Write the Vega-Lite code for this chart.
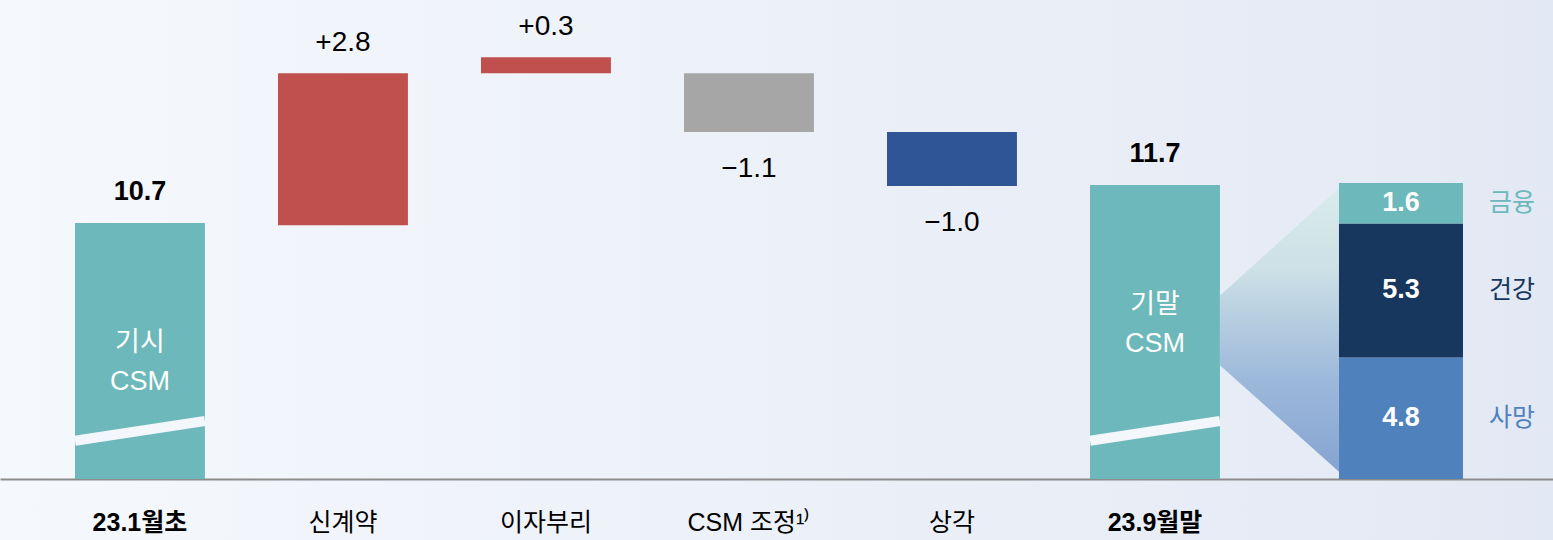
{
  "$schema": "https://vega.github.io/schema/vega-lite/v6.json",
  "width": 1553,
  "height": 540,
  "padding": 0,
  "autosize": {"type": "none"},
  "background": "#ecf1f8",
  "config": {
    "view": {"stroke": null, "fill": {"gradient": "linear", "x1": 0, "y1": 0, "x2": 1, "y2": 0, "stops": [{"offset": 0, "color": "#f5f8fc"}, {"offset": 1, "color": "#e3e9f4"}]}},
    "font": "Liberation Sans, Noto Sans CJK KR, sans-serif"
  },
  "datasets": {
    "wf": [
      {"cat": "23.1월초", "start": null, "end": 10.7, "kind": "total", "label": "10.7", "inner": "기시\nCSM"},
      {"cat": "신계약", "start": 10.66, "end": 13.5, "kind": "up", "label": "+2.8"},
      {"cat": "이자부리", "start": 13.5, "end": 13.8, "kind": "up", "label": "+0.3"},
      {"cat": "CSM 조정¹⁾", "start": 13.5, "end": 12.4, "kind": "adj", "label": "−1.1"},
      {"cat": "상각", "start": 12.4, "end": 11.39, "kind": "down", "label": "−1.0"},
      {"cat": "23.9월말", "start": null, "end": 11.41, "kind": "total", "label": "11.7", "inner": "기말\nCSM"}
    ],
    "mix": [
      {"cat": "구성", "part": "사망", "value": 4.8, "order": 1},
      {"cat": "구성", "part": "건강", "value": 5.3, "order": 2},
      {"cat": "구성", "part": "금융", "value": 1.6, "order": 3}
    ],
    "link": [
      {"cat": "23.9월말", "top": 7.25, "bottom": 4.5},
      {"cat": "구성", "top": 11.5, "bottom": 0.29}
    ]
  },
  "resolve": {"scale": {"y": "independent", "color": "independent"}},
  "layer": [
    {
      "data": {"name": "wf"},
      "layer": [
        {
          "transform": [{"filter": "datum.kind === 'total'"}],
          "mark": {"type": "bar", "color": "#6cb8ba"},
          "encoding": {
            "x": {"field": "cat", "type": "nominal", "title": null,
              "scale": {"domain": ["23.1월초", "신계약", "이자부리", "CSM 조정¹⁾", "상각", "23.9월말", "구성"], "paddingInner": 0.36, "paddingOuter": 0.505, "align": 0.3657},
              "axis": {"orient": "bottom", "offset": -61, "domainColor": "#8c8c8c", "domainWidth": 2, "ticks": false, "tickSize": 0, "grid": false, "labelPadding": 31, "labelFontSize": 25, "labelColor": "#000000", "labelFont": "Liberation Sans, Noto Sans CJK KR, sans-serif", "labelAngle": 0, "labelLimit": 300,
                "labelFontWeight": {"condition": {"test": "datum.value === '23.1월초' || datum.value === '23.9월말'", "value": "bold"}, "value": "normal"},
                "labelExpr": "datum.value === '구성' ? '' : datum.value"}},
            "y": {"field": "end", "type": "quantitative", "scale": {"domain": [4.775, 14.868], "nice": false, "zero": false}, "axis": null},
            "y2": {"datum": 5.915}
          }
        },
        {
          "transform": [{"filter": "datum.kind !== 'total'"}],
          "mark": {"type": "bar"},
          "encoding": {
            "x": {"field": "cat", "type": "nominal", "title": null, "scale": {"domain": ["23.1월초", "신계약", "이자부리", "CSM 조정¹⁾", "상각", "23.9월말", "구성"]}},
            "y": {"field": "start", "type": "quantitative", "scale": {"domain": [4.775, 14.868], "nice": false, "zero": false}, "axis": null},
            "y2": {"field": "end"},
            "color": {"field": "kind", "type": "nominal", "scale": {"domain": ["up", "adj", "down"], "range": ["#c0504d", "#a6a6a6", "#2f5597"]}, "legend": null}
          }
        },
        {
          "transform": [{"filter": "datum.kind === 'total'"}],
          "mark": {"type": "rule", "color": "#f3f6fb", "strokeWidth": 10, "strokeCap": "butt"},
          "encoding": {
            "x": {"field": "cat", "type": "nominal", "title": null, "bandPosition": 0},
            "x2": {"field": "cat", "bandPosition": 1},
            "y": {"datum": 6.63, "scale": {"domain": [4.775, 14.868], "nice": false, "zero": false}},
            "y2": {"datum": 7.0}
          }
        },
        {
          "transform": [{"filter": "datum.kind === 'total'"}],
          "mark": {"type": "text", "fontSize": 27, "fontWeight": "bold", "baseline": "alphabetic", "dy": -23, "color": "#000000"},
          "encoding": {
            "x": {"field": "cat", "type": "nominal", "title": null},
            "y": {"field": "end", "type": "quantitative", "scale": {"domain": [4.775, 14.868], "nice": false, "zero": false}},
            "text": {"field": "label"}
          }
        },
        {
          "transform": [{"filter": "datum.kind === 'up'"}],
          "mark": {"type": "text", "fontSize": 28, "baseline": "alphabetic", "dy": -22, "color": "#000000"},
          "encoding": {
            "x": {"field": "cat", "type": "nominal", "title": null},
            "y": {"field": "end", "type": "quantitative", "scale": {"domain": [4.775, 14.868], "nice": false, "zero": false}},
            "text": {"field": "label"}
          }
        },
        {
          "transform": [{"filter": "datum.kind === 'adj' || datum.kind === 'down'"}],
          "mark": {"type": "text", "fontSize": 28, "baseline": "top", "dy": 23, "color": "#000000"},
          "encoding": {
            "x": {"field": "cat", "type": "nominal", "title": null},
            "y": {"field": "end", "type": "quantitative", "scale": {"domain": [4.775, 14.868], "nice": false, "zero": false}},
            "text": {"field": "label"}
          }
        },
        {
          "transform": [{"filter": "datum.kind === 'total'"}],
          "mark": {"type": "text", "fontSize": 27, "baseline": "middle", "lineBreak": "\n", "lineHeight": 39, "dy": 120, "color": "#ffffff"},
          "encoding": {
            "x": {"field": "cat", "type": "nominal", "title": null},
            "y": {"field": "end", "type": "quantitative", "scale": {"domain": [4.775, 14.868], "nice": false, "zero": false}},
            "text": {"field": "inner"}
          }
        }
      ]
    },
    {
      "layer": [
        {
          "data": {"name": "link"},
          "mark": {"type": "area", "xOffset": {"expr": "datum.cat === '구성' ? -84 : 0"},
            "color": {"gradient": "linear", "x1": 0, "y1": 0, "x2": 0, "y2": 1, "stops": [{"offset": 0, "color": "#daebeb"}, {"offset": 0.29, "color": "#cce0e6"}, {"offset": 0.68, "color": "#9cb8da"}, {"offset": 1, "color": "#86a4d2"}]}},
          "encoding": {
            "x": {"field": "cat", "type": "nominal", "title": null, "bandPosition": 1, "scale": {"domain": ["23.1월초", "신계약", "이자부리", "CSM 조정¹⁾", "상각", "23.9월말", "구성"]}},
            "y": {"field": "top", "type": "quantitative", "scale": {"domain": [-2.411, 18.93], "nice": false, "zero": false}, "axis": null},
            "y2": {"field": "bottom"}
          }
        },
        {
          "data": {"name": "mix"},
          "mark": {"type": "bar", "width": 124, "xOffset": 43},
          "encoding": {
            "x": {"field": "cat", "type": "nominal", "title": null},
            "y": {"field": "value", "type": "quantitative", "stack": "zero", "scale": {"domain": [-2.411, 18.93], "nice": false, "zero": false}, "axis": null},
            "color": {"field": "part", "type": "nominal", "scale": {"domain": ["금융", "건강", "사망"], "range": ["#6cb8ba", "#17375e", "#4f81bd"]}, "legend": null},
            "order": {"field": "order", "type": "quantitative"}
          }
        },
        {
          "data": {"name": "mix"},
          "transform": [
            {"stack": "value", "groupby": ["cat"], "sort": [{"field": "order", "order": "ascending"}], "as": ["lo", "hi"]},
            {"fold": ["lo", "hi"], "as": ["k", "v"]},
            {"aggregate": [{"op": "mean", "field": "v", "as": "mid"}, {"op": "max", "field": "value", "as": "amount"}], "groupby": ["cat", "part"]}
          ],
          "layer": [
            {
              "mark": {"type": "text", "fontSize": 27, "fontWeight": "bold", "baseline": "middle", "xOffset": 43, "color": "#ffffff"},
              "encoding": {
                "x": {"field": "cat", "type": "nominal", "title": null},
                "y": {"field": "mid", "type": "quantitative", "scale": {"domain": [-2.411, 18.93], "nice": false, "zero": false}},
                "text": {"field": "amount", "type": "quantitative", "format": ".1f"}
              }
            },
            {
              "mark": {"type": "text", "fontSize": 25, "baseline": "middle", "xOffset": 154},
              "encoding": {
                "x": {"field": "cat", "type": "nominal", "title": null},
                "y": {"field": "mid", "type": "quantitative", "scale": {"domain": [-2.411, 18.93], "nice": false, "zero": false}},
                "text": {"field": "part"},
                "color": {"field": "part", "type": "nominal", "legend": null}
              }
            }
          ]
        }
      ]
    }
  ]
}
